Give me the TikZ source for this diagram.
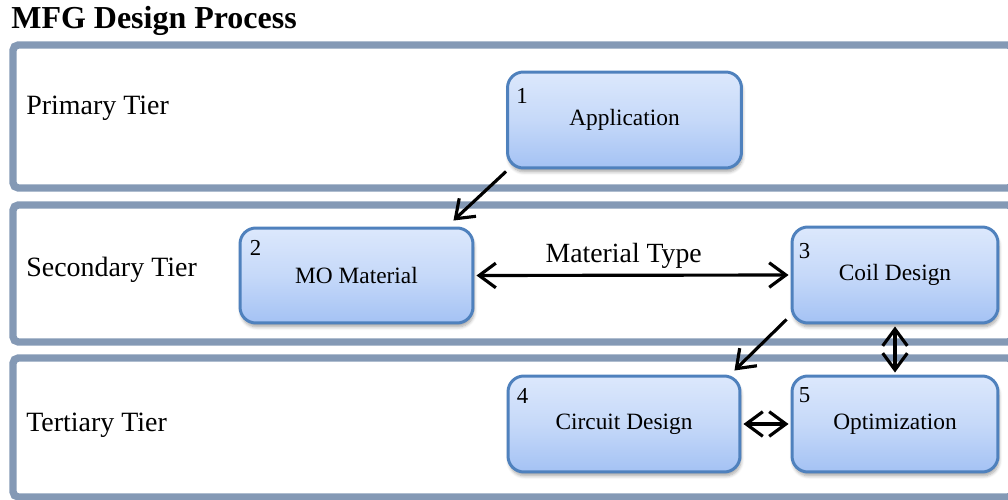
\documentclass[tikz,border=0pt]{standalone}
\usepackage{fontspec}
\setmainfont{Liberation Serif}
\usetikzlibrary{arrows.meta,shadows.blur}
\definecolor{framecol}{HTML}{8499B5}
\definecolor{boxline}{HTML}{4F81BD}
\definecolor{boxtop}{HTML}{DCE8FC}
\definecolor{boxbot}{HTML}{A4C2F4}
\tikzset{
  frame/.style={draw=framecol, line width=4.2pt, rounded corners=3pt},
  stepbox/.style={draw=boxline, line width=1.7pt, rounded corners=9pt,
    top color=boxtop, bottom color=boxbot, middle color=boxtop!60!boxbot,
    blur shadow={shadow xshift=0.6pt, shadow yshift=-2.2pt, shadow blur steps=6, shadow opacity=35},
    font=\fontsize{13.3}{15}\selectfont, inner sep=0pt},
  numlab/.style={font=\fontsize{13}{15}\selectfont, inner sep=0pt},
  tierlab/.style={font=\fontsize{15.9}{18}\selectfont, anchor=west, inner sep=0pt},
  tip/.style={Straight Barb[length=9.5pt,width=14pt,line width=1.8pt]},
  arr/.style={line width=1.8pt, -{Straight Barb[length=9.5pt,width=14pt,line width=1.8pt]}},
  darr/.style={line width=1.8pt, {Straight Barb[length=9.5pt,width=14pt,line width=1.8pt]}-{Straight Barb[length=9.5pt,width=14pt,line width=1.8pt]}}
}
\begin{document}
\begin{tikzpicture}[x=0.02cm, y=-0.02cm]
\useasboundingbox (0,0) rectangle (1008,500);
\begin{scope}
\clip (0,0) rectangle (1008,500);
% title
\node[anchor=west, inner sep=0pt, font=\bfseries\fontsize{18.2}{21}\selectfont] (title) at (11,21) {MFG Design Process};
% tier frames
\draw[frame] (13,45) rectangle (1013,188);
\draw[frame] (13,205) rectangle (1013,342);
\draw[frame] (13,358) rectangle (1013,497);
\node[tierlab] (t1) at (26,108) {Primary Tier};
\node[tierlab] (t2) at (26,270) {Secondary Tier};
\node[tierlab] (t3) at (26,425) {Tertiary Tier};
% boxes
\node[stepbox, minimum width=4.68cm, minimum height=1.92cm] (app) at (624.5,120) {Application};
\node[stepbox, minimum width=4.66cm, minimum height=1.90cm] (mo) at (356.5,275.5) {MO Material};
\node[stepbox, minimum width=4.12cm, minimum height=1.92cm] (coil) at (895,275) {Coil Design};
\node[stepbox, minimum width=4.64cm, minimum height=1.92cm] (circ) at (624,424) {Circuit Design};
\node[stepbox, minimum width=4.12cm, minimum height=1.92cm] (opt) at (895,424) {Optimization};
% numbers
\node[numlab] (n1) at ([shift={(16,25)}]app.north west) {1};
\node[numlab] (n2) at ([shift={(17,21)}]mo.north west) {2};
\node[numlab] (n3) at ([shift={(14,26)}]coil.north west) {3};
\node[numlab] (n4) at ([shift={(16,21)}]circ.north west) {4};
\node[numlab] (n5) at ([shift={(14,21)}]opt.north west) {5};
% connectors
\draw[arr] ([shift={(0,2)}]app.south west) -- ([shift={(-21,-6)}]mo.north east);
\draw[darr] ([shift={(2,0)}]mo.east) -- node[above=3pt, xshift=-5pt, font=\fontsize{15.8}{18}\selectfont, inner sep=0pt] (mt) {Material Type} ([shift={(-2,0)}]coil.west);
\draw[arr] ([shift={(-4,-5)}]coil.south west) -- ([shift={(-7,-4)}]circ.north east);
\draw[darr] ([shift={(0,2)}]coil.south) -- ([shift={(0,-2)}]opt.north);
\draw[darr] ([shift={(2,0)}]circ.east) -- ([shift={(-2,0)}]opt.west);
\end{scope}
\end{tikzpicture}
\end{document}
